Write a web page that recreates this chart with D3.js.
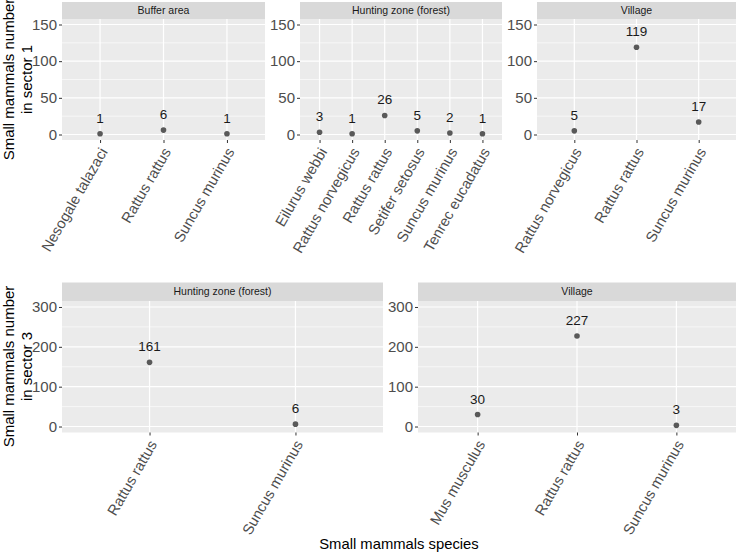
<!DOCTYPE html>
<html>
<head>
<meta charset="utf-8">
<script src="https://cdn.jsdelivr.net/npm/d3@7"></script>
<style>
  body { margin: 0; background: #fff; }
  svg text { font-family: "Liberation Sans", Arial, sans-serif; }
</style>
</head>
<body>
<svg id="chart" width="740" height="553"></svg>
<script>
// sector 1
let s1Zones = ['Buffer area', 'Hunting zone (forest)', 'Village'];
let s1BufferSpecies = ['Nesogale talazaci', 'Rattus rattus', 'Suncus murinus'];
let s1BufferCounts = [1, 6, 1];
let s1HuntingSpecies = ['Eilurus webbi', 'Rattus norvegicus', 'Rattus rattus', 'Setifer setosus', 'Suncus murinus', 'Tenrec eucadatus'];
let s1HuntingCounts = [3, 1, 26, 5, 2, 1];
let s1VillageSpecies = ['Rattus norvegicus', 'Rattus rattus', 'Suncus murinus'];
let s1VillageCounts = [5, 119, 17];
let s1Ticks = [0, 50, 100, 150];
let s1Minor = [25, 75, 125];

// sector 3
let s3Zones = ['Hunting zone (forest)', 'Village'];
let s3HuntingSpecies = ['Rattus rattus', 'Suncus murinus'];
let s3HuntingCounts = [161, 6];
let s3VillageSpecies = ['Mus musculus', 'Rattus rattus', 'Suncus murinus'];
let s3VillageCounts = [30, 227, 3];
let s3Ticks = [0, 100, 200, 300];
let s3Minor = [50, 150, 250];

let svg = d3.select('#chart');

//画一个分面
function drawPanel(p) {
    let g = svg.append('g');
    //strip
    g.append('rect')
        .attr('x', p.x0).attr('y', p.stripTop)
        .attr('width', p.x1 - p.x0).attr('height', p.y0 - p.stripTop)
        .attr('fill', '#d9d9d9');
    g.append('text')
        .attr('x', (p.x0 + p.x1) / 2).attr('y', (p.stripTop + p.y0) / 2)
        .attr('dy', '0.35em')
        .attr('text-anchor', 'middle')
        .attr('font-size', 10.5)
        .attr('fill', '#1a1a1a')
        .text(p.zone);
    //panel背景
    g.append('rect')
        .attr('x', p.x0).attr('y', p.y0)
        .attr('width', p.x1 - p.x0).attr('height', p.y1 - p.y0)
        .attr('fill', '#ebebeb');

    let yScale = d3.scaleLinear()
        .domain([p.ticks[0] - p.ticks[3] * 0.05, p.ticks[3] * 1.05])
        .range([p.y1, p.y0]);
    let xScale = d3.scalePoint()
        .domain(p.species)
        .range([p.x0, p.x1])
        .padding(0.6);

    //网格线
    g.selectAll('line.minor').data(p.minor).enter().append('line')
        .attr('x1', p.x0).attr('x2', p.x1)
        .attr('y1', d => yScale(d)).attr('y2', d => yScale(d))
        .attr('stroke', '#fff').attr('stroke-width', 0.6);
    g.selectAll('line.major').data(p.ticks).enter().append('line')
        .attr('x1', p.x0).attr('x2', p.x1)
        .attr('y1', d => yScale(d)).attr('y2', d => yScale(d))
        .attr('stroke', '#fff').attr('stroke-width', 1.2);
    g.selectAll('line.vmajor').data(p.species).enter().append('line')
        .attr('x1', d => xScale(d)).attr('x2', d => xScale(d))
        .attr('y1', p.y0).attr('y2', p.y1)
        .attr('stroke', '#fff').attr('stroke-width', 1.2);

    //y轴
    let yAxis = g.append('g')
        .attr('transform', 'translate(' + p.x0 + ',0)')
        .call(d3.axisLeft(yScale).tickValues(p.ticks).tickSize(3).tickPadding(2));
    yAxis.select('.domain').remove();
    yAxis.selectAll('line').attr('stroke', '#333');
    yAxis.selectAll('text').attr('font-size', 15).attr('fill', '#4d4d4d')
        .attr('font-family', '"Liberation Sans", Arial, sans-serif');

    //x轴
    let xAxis = g.append('g')
        .attr('transform', 'translate(0,' + p.y1 + ')')
        .call(d3.axisBottom(xScale).tickSize(3).tickPadding(0));
    xAxis.select('.domain').remove();
    xAxis.selectAll('line').attr('stroke', '#333');
    xAxis.selectAll('text')
        .attr('font-size', 14.8).attr('fill', '#4d4d4d')
        .attr('font-family', '"Liberation Sans", Arial, sans-serif')
        .attr('text-anchor', 'end')
        .attr('y', 0).attr('dy', '0.35em')
        .attr('transform', 'translate(3,9) rotate(-60)');

    //点和数值
    let data = p.species.map((s, i) => ({ s: s, v: p.counts[i] }));
    g.selectAll('circle').data(data).enter().append('circle')
        .attr('cx', d => xScale(d.s)).attr('cy', d => yScale(d.v))
        .attr('r', 2.8).attr('fill', '#595959');
    g.selectAll('text.lab').data(data).enter().append('text')
        .attr('class', 'lab')
        .attr('x', d => xScale(d.s)).attr('y', d => yScale(d.v) - 11)
        .attr('text-anchor', 'middle')
        .attr('font-size', 13.5).attr('fill', '#1a1a1a')
        .text(d => d.v);
}

let topRow = [
    { zone: s1Zones[0], species: s1BufferSpecies, counts: s1BufferCounts, x0: 62, x1: 265 },
    { zone: s1Zones[1], species: s1HuntingSpecies, counts: s1HuntingCounts, x0: 300, x1: 502 },
    { zone: s1Zones[2], species: s1VillageSpecies, counts: s1VillageCounts, x0: 537, x1: 736 }
];
topRow.forEach(p => drawPanel(Object.assign(p, { stripTop: 2, y0: 19, y1: 140, ticks: s1Ticks, minor: s1Minor })));

let bottomRow = [
    { zone: s3Zones[0], species: s3HuntingSpecies, counts: s3HuntingCounts, x0: 62, x1: 383 },
    { zone: s3Zones[1], species: s3VillageSpecies, counts: s3VillageCounts, x0: 418, x1: 736 }
];
bottomRow.forEach(p => drawPanel(Object.assign(p, { stripTop: 282.5, y0: 301, y1: 432.5, ticks: s3Ticks, minor: s3Minor })));

//轴标题
function yTitle(cy, lines) {
    let t = svg.append('text')
        .attr('transform', 'translate(14,' + cy + ') rotate(-90)')
        .attr('text-anchor', 'middle')
        .attr('font-size', 15).attr('fill', '#000');
    lines.forEach((l, i) => {
        t.append('tspan').attr('x', 0).attr('dy', i === 0 ? 0 : '1.2em').text(l);
    });
}
yTitle(79.5, ['Small mammals number', 'in sector 1']);
yTitle(366.5, ['Small mammals number', 'in sector 3']);

svg.append('text')
    .attr('x', 399).attr('y', 549)
    .attr('text-anchor', 'middle')
    .attr('font-size', 14.8).attr('fill', '#000')
    .text('Small mammals species');
</script>
</body>
</html>
